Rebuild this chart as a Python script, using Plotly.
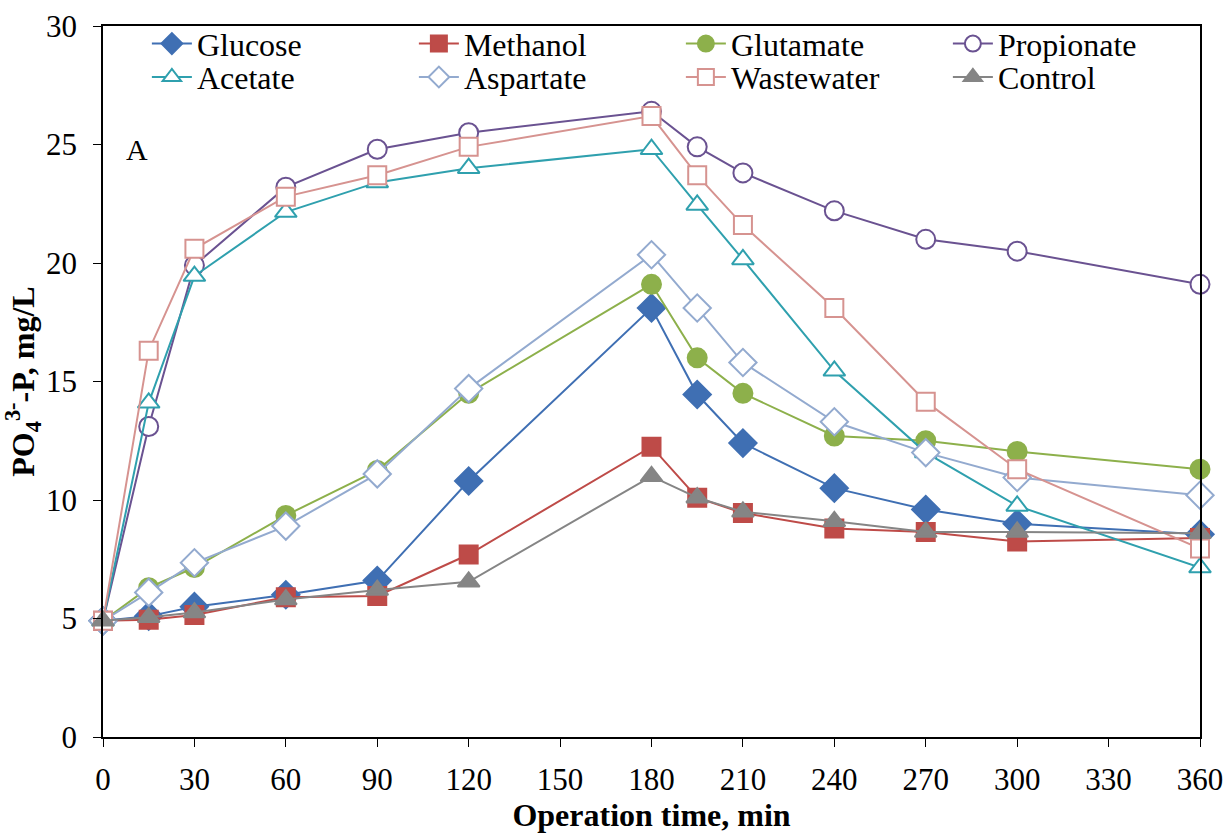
import plotly.graph_objects as go

# Sampling times (min)
time_min = [0, 15, 30, 60, 90, 120, 180, 195, 210, 240, 270, 300, 360]

# PO4-P concentrations (mg/L) for each carbon source
glucose = [4.9, 5.1, 5.5, 6.0, 6.6, 10.8, 18.1, 14.45, 12.4, 10.5, 9.6, 9.0, 8.55]
methanol = [4.9, 4.95, 5.15, 5.9, 5.95, 7.7, 12.25, 10.1, 9.45, 8.8, 8.65, 8.25, 8.4]
glutamate = [4.9, 6.3, 7.15, 9.35, 11.25, 14.5, 19.1, 16.0, 14.5, 12.7, 12.5, 12.05, 11.3]
propionate = [4.9, 13.1, 19.9, 23.2, 24.8, 25.5, 26.4, 24.9, 23.8, 22.2, 21.0, 20.5, 19.1]
acetate = [4.9, 14.1, 19.45, 22.15, 23.4, 24.0, 24.8, 22.45, 20.15, 15.45, 12.0, 9.75, 7.15]
aspartate = [4.9, 6.1, 7.35, 8.9, 11.1, 14.7, 20.35, 18.1, 15.8, 13.3, 12.0, 10.95, 10.2]
wastewater = [4.9, 16.3, 20.6, 22.8, 23.7, 24.9, 26.2, 23.7, 21.6, 18.1, 14.15, 11.3, 7.95]
control = [4.9, 5.05, 5.25, 5.8, 6.2, 6.55, 11.0, 10.1, 9.5, 9.1, 8.65, 8.65, 8.6]

x_ticks = [0, 30, 60, 90, 120, 150, 180, 210, 240, 270, 300, 330, 360]
y_ticks = [0, 5, 10, 15, 20, 25, 30]

SERIF = "Liberation Serif"

# name, values, colour, symbol, size, filled, legend row
series = [
    ("Glucose", glucose, "#3F6FB3", "diamond", 21, True, "legend"),
    ("Methanol", methanol, "#BE4B48", "square", 18, True, "legend"),
    ("Glutamate", glutamate, "#8DB04B", "circle", 19, True, "legend"),
    ("Propionate", propionate, "#6A5291", "circle", 19, False, "legend"),
    ("Acetate", acetate, "#2FA0AE", "triangle-up", 19, False, "legend2"),
    ("Aspartate", aspartate, "#93AACF", "diamond", 21, False, "legend2"),
    ("Wastewater", wastewater, "#D69390", "square", 18, False, "legend2"),
    ("Control", control, "#858585", "triangle-up", 19, True, "legend2"),
]

fig = go.Figure()
for name, vals, color, symbol, size, filled, leg in series:
    marker = dict(symbol=symbol, size=size,
                  color=color if filled else "white",
                  line=dict(color=color, width=2))
    fig.add_trace(go.Scatter(
        x=time_min, y=vals, name=name, mode="lines+markers",
        line=dict(color=color, width=2), marker=marker, cliponaxis=False,
        legend=leg,
    ))

fig.add_annotation(x=11, y=24.8, xref="x", yref="y", text="A", showarrow=False,
                   font=dict(family=SERIF, size=30, color="black"))

legend_common = dict(
    orientation="h", xanchor="left", yanchor="middle",
    bgcolor="rgba(0,0,0,0)", font=dict(family=SERIF, size=32, color="black"),
    entrywidth=212, entrywidthmode="pixels", itemwidth=40,
)

fig.update_layout(
    width=1228, height=837,
    margin=dict(l=103, r=28, t=26, b=100, autoexpand=False),
    paper_bgcolor="white", plot_bgcolor="white",
    font=dict(family=SERIF, size=30, color="black"),
    showlegend=True,
    legend=dict(x=0.04, y=0.975, **legend_common),
    legend2=dict(x=0.04, y=0.928, **legend_common),
    xaxis=dict(
        range=[0, 360], tickvals=x_ticks, ticks="outside", ticklen=8,
        tickcolor="black", showline=True, linecolor="black", linewidth=1.5,
        mirror=True, showgrid=False, zeroline=False, ticklabelstandoff=6,
        automargin=False, tickfont=dict(family=SERIF, size=31),
        title=dict(text="<b>Operation time, min</b>",
                   font=dict(family=SERIF, size=32), standoff=4),
    ),
    yaxis=dict(
        range=[0, 30], tickvals=y_ticks, ticks="outside", ticklen=8,
        tickcolor="black", showline=True, linecolor="black", linewidth=1.5,
        mirror=True, showgrid=False, zeroline=False, ticklabelstandoff=10,
        automargin=False, tickfont=dict(family=SERIF, size=31),
        title=dict(text="<b>PO<sub>4</sub><sup>3-</sup>-P, mg/L</b>",
                   font=dict(family=SERIF, size=32), standoff=2),
    ),
)

fig.write_html("out.html")
